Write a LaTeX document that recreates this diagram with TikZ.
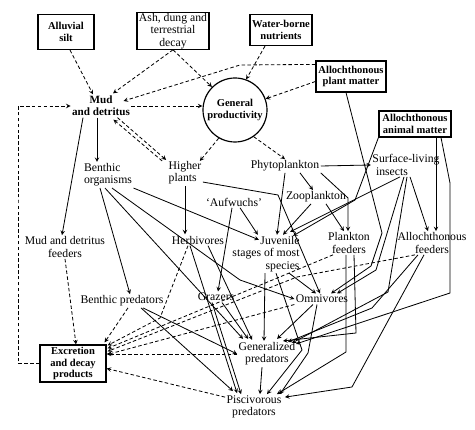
\documentclass[tikz,border=0pt]{standalone}
\usepackage{fontspec}
\setmainfont{Liberation Serif}

\begin{document}
\begin{tikzpicture}[x=0.03cm,y=-0.03cm,>=stealth,line width=0.7pt,
   every node/.style={inner sep=1pt,font=\fontsize{10}{10.5}\selectfont},
   src/.style={draw,line width=1pt,align=center,inner sep=0.5pt,
     font=\fontsize{9}{10}\selectfont\bfseries},
   flow/.style={->,dash pattern=on 3pt off 2pt}]
   \useasboundingbox (0,0) rectangle (475,430);

   % sources
   \node[src,minimum width=1.68cm,minimum height=1.05cm] (alluvial) at (66,32) {Alluvial\\silt};
   \node[src,minimum width=2.16cm,minimum height=1.08cm,font=\fontsize{10}{10.5}\selectfont] (ash) at (173,31) {Ash, dung and\\terrestrial\\decay};
   \node[src,minimum width=1.86cm,minimum height=0.93cm] (water) at (281,30) {Water-borne\\nutrients};
   \node[src,minimum width=2.1cm,minimum height=0.93cm] (plant) at (351,76.5) {Allochthonous\\plant matter};
   \node[src,minimum width=2.16cm,minimum height=0.78cm] (animal) at (415,124) {Allochthonous\\animal matter};
   \node[src,circle,minimum size=1.92cm] (genprod) at (235,110) {General\\productivity};
   \node[src,minimum width=1.98cm,minimum height=1.11cm] (excretion) at (73,363.5) {Excretion\\and decay\\products};
   \node[align=center,font=\fontsize{9.5}{10.5}\selectfont\bfseries] (mud) at (101,106) {Mud\\and detritus};

   % organisms
   \node[align=left] (benthic) at (108,175) {Benthic\\organisms};
   \node[align=left] (higher) at (185,173) {Higher\\plants};
   \node (phyto) at (285,166) {Phytoplankton};
   \node[align=left] (insects) at (406,165) {Surface-living\\\hspace*{3pt}insects};
   \node (zoo) at (316,197) {Zooplankton};
   \node (aufwuchs) at (234,202) {`Aufwuchs'};
   \node (herbiv) at (198,240) {Herbivores};
   \node[align=right] (juvenile) at (266,254) {Juvenile\\stages of most\\species};
   \node[align=center] (plankfeed) at (349,243) {Plankton\\feeders};
   \node[align=center] (allofeed) at (432,243) {Allochthonous\\feeders};
   \node[align=center] (mudfeed) at (65,247) {Mud and detritus\\feeders};
   \node (benpred) at (122,301) {Benthic predators};
   \node (grazers) at (216,297) {Grazers};
   \node (omni) at (322,299) {Omnivores};
   \node[align=center] (genpred) at (267,354) {Generalized\\predators};
   \node[align=center] (pisc) at (254,407) {Piscivorous\\predators};

   % bends
   \coordinate (pmb) at (240,65);
   \coordinate (loopc) at (18,200);
   \coordinate (hxb) at (160,318);
   \coordinate (afxb) at (297,277);
   \coordinate (bob) at (240,280);
   \coordinate (hpb) at (278,195);
   \coordinate (pfb) at (348,198);
   \coordinate (ajb) at (355,200);
   \coordinate (pob1) at (382,233);
   \coordinate (pob2) at (371,266);
   \coordinate (iob) at (376,270);
   \coordinate (igb) at (388,292);
   \coordinate (agb1) at (450,183);
   \coordinate (agb2) at (450,293);
   \coordinate (afgb) at (372,308);
   \coordinate (afpb) at (352,387);
   \coordinate (pgb) at (356,333);
   \coordinate (ppb) at (346,352);
   \coordinate (jpb) at (302,350);
   \coordinate (opb) at (308,353);

   % inputs (dashed)
   \path[flow] ([shift={(4,0)}]alluvial.south) edge ([shift={(-8,0)}]mud.north)
      (ash.south) edge ([shift={(12,-1)}]mud.north)
      (ash.south) edge (genprod.135)
      ([shift={(-16,0)}]water.south) edge (genprod.70)
      ([shift={(0,5)}]plant.west) edge (genprod.20)
      (mud.east) edge (mud.east -| genprod.west)
      ([shift={(-14,0)}]mud.south east) edge ([shift={(-1,0)}]higher.north west)
      ([shift={(-5,1)}]higher.north west) edge ([shift={(-18,2)}]mud.south east)
      (genprod.-120) edge ([shift={(-3,1)}]higher.north east)
      (genprod.-55) edge (phyto.north);
   \draw[flow] ([shift={(0,4)}]plant.north west) -- (pmb) -- ([shift={(-8,-5)}]mud.east);

   % excretion (dashed)
   \path[flow] (mudfeed.south) edge ([shift={(3,0)}]excretion.north)
      ([shift={(6,0)}]benpred.south) edge ([shift={(-2,-2)}]excretion.north east)
      ([shift={(-16,0)}]plankfeed.south) edge ([shift={(1,4)}]excretion.north east)
      (omni.south west) edge ([shift={(1,10)}]excretion.north east)
      (genpred.west) edge (genpred.west -| excretion.east)
      ([shift={(0,3)}]pisc.north west) edge ([shift={(0,5)}]excretion.east);
   \draw[flow] ([shift={(-10,0)}]herbiv.south) -- (hxb) -- ([shift={(1,1)}]excretion.north east);
   \draw[flow] ([shift={(-17,0)}]allofeed.south) -- (afxb) -- ([shift={(1,7)}]excretion.north east);
   \draw[flow] (excretion.west) -| (loopc) |- (mud.west);

   % food links
   \path[->] ([shift={(-4,0)}]mud.south) edge ([shift={(-11,0)}]benthic.north)
      ([shift={(-18,0)}]mud.south) edge ([shift={(-3,0)}]mudfeed.north)
      ([shift={(-8,0)}]benthic.south) edge ([shift={(8,0)}]benpred.north)
      ([shift={(-3,0)}]benthic.south) edge ([shift={(6,-2)}]genpred.north west)
      (benthic.south east) edge ([shift={(28,5)}]juvenile.north west)
      (higher.south) edge ([shift={(-13,0)}]herbiv.north)
      ([shift={(-2,0)}]aufwuchs.south) edge ([shift={(2,0)}]grazers.north)
      ([shift={(6,0)}]aufwuchs.south) edge ([shift={(27,0)}]juvenile.north west)
      ([shift={(15,0)}]phyto.south) edge ([shift={(-3,0)}]zoo.north)
      (phyto.east) edge (insects.west)
      (phyto.south) edge ([shift={(11,0)}]juvenile.north)
      ([shift={(-5,0)}]zoo.south) edge ([shift={(17,0)}]juvenile.north)
      ([shift={(10,0)}]zoo.south) edge ([shift={(-5,0)}]plankfeed.north)
      ([shift={(-6,0)}]insects.south) edge ([shift={(-11,-3)}]juvenile.north east)
      ([shift={(4,0)}]insects.south) edge ([shift={(-4,0)}]allofeed.north)
      ([shift={(21,0)}]animal.south) edge ([shift={(4,0)}]allofeed.north)
      ([shift={(-12,0)}]juvenile.south east) edge ([shift={(-6,0)}]omni.north)
      ([shift={(-1,0)}]juvenile.south) edge ([shift={(-3,0)}]genpred.north)
      ([shift={(10,0)}]herbiv.south) edge ([shift={(15,-1)}]genpred.north west)
      ([shift={(-8,0)}]herbiv.south) edge ([shift={(12,-1)}]pisc.north west)
      ([shift={(6,0)}]grazers.south) edge ([shift={(11,-2)}]genpred.north west)
      ([shift={(-4,0)}]grazers.south) edge ([shift={(16,0)}]pisc.north west)
      ([shift={(21,0)}]benpred.south) edge (genpred.west)
      ([shift={(19,0)}]benpred.south) edge ([shift={(8,-3)}]pisc.north west)
      ([shift={(-9,0)}]omni.south) edge ([shift={(10,-2)}]genpred.north)
      ([shift={(-5,0)}]genpred.south) edge ([shift={(6,0)}]pisc.north);
   \draw[->] ([shift={(4,0)}]benthic.south) -- (bob) -- (omni.west);
   \draw[->] ([shift={(0,-4)}]higher.south east) -- (hpb) -- ([shift={(-2,0)}]omni.north);
   \draw[->] (phyto.south east) -- (pfb) -- ([shift={(-1,0)}]plankfeed.north);
   \draw[->] (animal.south west) -- (ajb) -- ([shift={(-8,1)}]juvenile.north east);
   \draw[->] ([shift={(-5,0)}]plant.south) -- (pob1) -- (pob2) -- ([shift={(9,0)}]omni.north);
   \draw[->] ([shift={(-2,0)}]insects.south) -- (iob) -- ([shift={(15,0)}]omni.north);
   \draw[->] ([shift={(1,0)}]insects.south) -- (igb) -- ([shift={(25,2)}]genpred.north);
   \draw[->] ([shift={(26,0)}]animal.south) -- (agb1) -- (agb2) -- ([shift={(29,3)}]genpred.north);
   \draw[->] ([shift={(-14,0)}]allofeed.south) -- (afgb) -- ([shift={(21,1)}]genpred.north);
   \draw[->] ([shift={(-8,0)}]allofeed.south) -- (afpb) -- ([shift={(2,3)}]pisc.north east);
   \draw[->] ([shift={(5,0)}]plankfeed.south) -- (pgb) -- ([shift={(16,0)}]genpred.north);
   \draw[->] ([shift={(-3,0)}]plankfeed.south) -- (ppb) -- ([shift={(-6,0)}]pisc.north east);
   \draw[->] ([shift={(10,0)}]juvenile.south) -- (jpb) -- ([shift={(13,0)}]pisc.north);
   \draw[->] ([shift={(-5,0)}]omni.south) -- (opb) -- ([shift={(-3,0)}]pisc.north east);
\end{tikzpicture}
\end{document}
